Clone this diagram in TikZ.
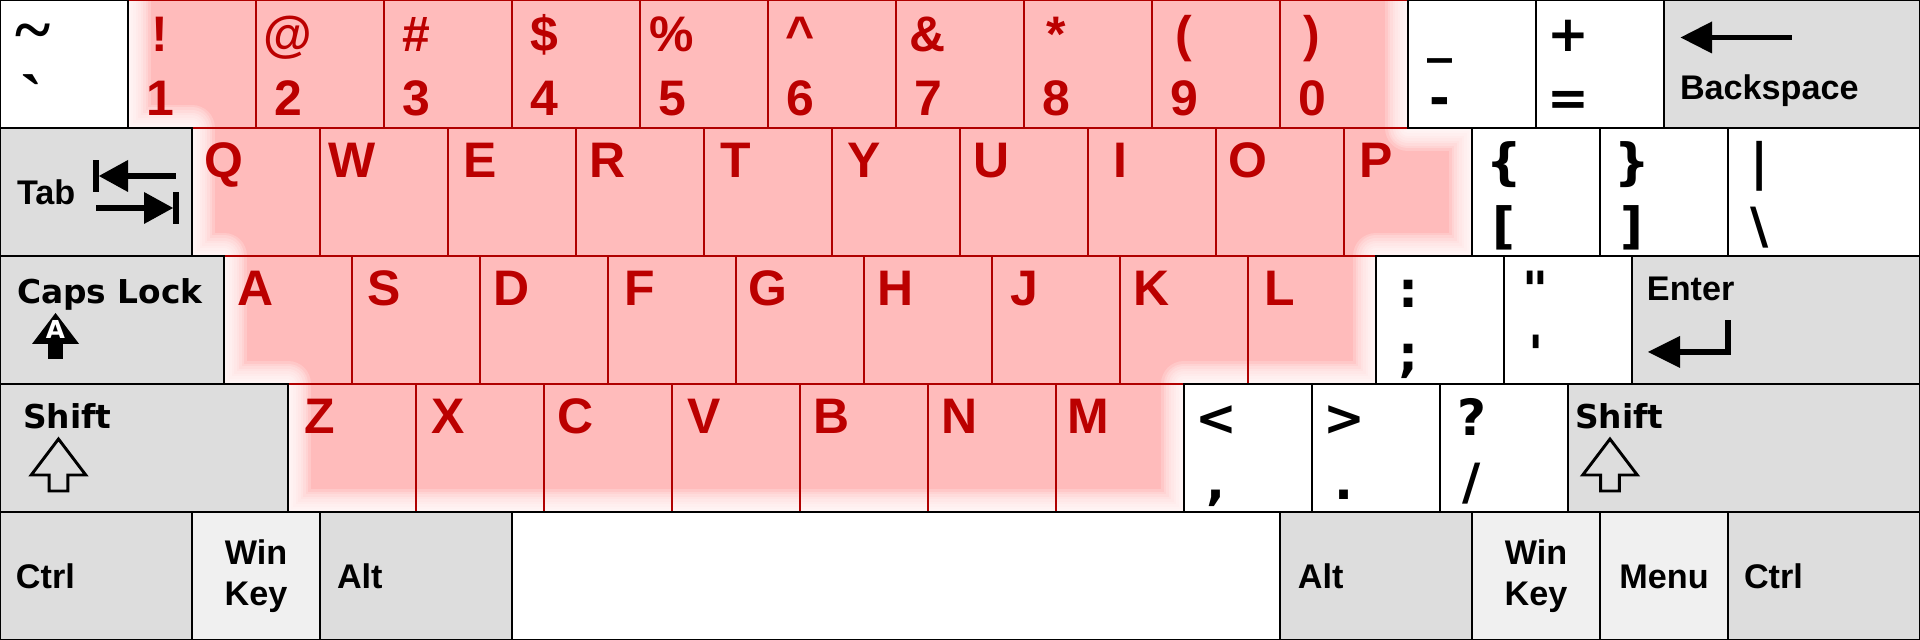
\documentclass[tikz,border=0pt]{standalone}
\usepackage{fontspec}
\setmainfont{Liberation Sans}
\newfontfamily\dejavu{DejaVu Sans}
\newfontfamily\serifkey{Liberation Serif}
\usetikzlibrary{positioning}
\definecolor{keyred}{HTML}{BB0000}
\definecolor{keyline}{HTML}{B00000}
\definecolor{keypink}{HTML}{FFBBBB}
\definecolor{modgrey}{HTML}{DDDDDD}
\definecolor{wingrey}{HTML}{F0F0F0}

% upper and lower legend of one key
\newcommand{\keylegend}[4][symlbl]{%
  \node[#1] (#2top) at ([shift={(0.25,-0.4)}]#2.north west) {#3};
  \node[#1] (#2bot) at ([shift={(0.25,-0.9)}]#2.north west) {#4};}

\begin{document}
\begin{tikzpicture}[
  every node/.style={inner sep=0pt, outer sep=0pt},
  keycap/.style={rectangle, anchor=north west, line width=0.6pt,
                 minimum height=1cm, minimum width=#1},
  keycap/.default=1cm,
  plainkey/.style={keycap=#1, draw=black, fill=white},
  plainkey/.default=1cm,
  modkey/.style={keycap=#1, draw=black, fill=modgrey},
  modkey/.default=1cm,
  winkey/.style={keycap=#1, draw=black, fill=wingrey},
  winkey/.default=1cm,
  letterkey/.style={keycap, draw=keyline},
  redlbl/.style={anchor=base, text=keyred, font=\fontsize{11.1}{13}\selectfont\bfseries},
  symlbl/.style={anchor=base, font=\dejavu\fontsize{11.1}{13}\selectfont\bfseries},
  tildelbl/.style={anchor=base, font=\serifkey\fontsize{15}{17}\selectfont\bfseries},
  modlbl/.style={anchor=base west, font=\fontsize{7.6}{9.1}\selectfont\bfseries},
  capslbl/.style={anchor=base west, font=\dejavu\fontsize{7.3}{9}\selectfont\bfseries},
  capsA/.style={anchor=base, text=white, font=\dejavu\fontsize{5.5}{6}\selectfont\bfseries},
  iconfill/.style={fill=black},
  outline/.style={draw=black, line width=0.65pt},
]
  \useasboundingbox (0,0) rectangle (15,5);
  % pink area behind the letter keys, soft at its border
  \begin{scope}
    \clip (1,5) -- (11,5) -- (11,4) -- (11.5,4) -- (11.5,3) -- (10.75,3)
      -- (10.75,2) -- (9.25,2) -- (9.25,1) -- (2.25,1) -- (2.25,2)
      -- (1.75,2) -- (1.75,3) -- (1.5,3) -- (1.5,4) -- (1,4) -- cycle;
    \fill[keypink] (0,0) rectangle (15,5);
    \foreach \w in {0.04,0.08,...,0.4}
      \draw[white, opacity=0.2, line width=\w*1cm, line join=round]
        (11,5.5) -- (11,4) -- (11.5,4) -- (11.5,3) -- (10.75,3)
        -- (10.75,2) -- (9.25,2) -- (9.25,1) -- (2.25,1) -- (2.25,2)
        -- (1.75,2) -- (1.75,3) -- (1.5,3) -- (1.5,4) -- (1,4) -- (1,5.5);
  \end{scope}

  % number row
  \foreach \s/\d [count=\i] in {{!}/1, {@}/2, {\#}/3, {\$}/4, {\%}/5,
      {\textasciicircum}/6, {\&}/7, {*}/8, {(}/9, {)}/0} {
    \node[letterkey] (num\i) at (\i,5) {};
    \keylegend[redlbl]{num\i}{\s}{\d}
  }
  % letter rows
  \foreach \l [count=\i from 0] in {Q,W,E,R,T,Y,U,I,O,P} {
    \node[letterkey] (k\l) at (1.5+\i,4) {};
    \node[redlbl] (l\l) at ([shift={(0.25,-0.39)}]k\l.north west) {\l};
  }
  \foreach \l [count=\i from 0] in {A,S,D,F,G,H,J,K,L} {
    \node[letterkey] (k\l) at (1.75+\i,3) {};
    \node[redlbl] (l\l) at ([shift={(0.25,-0.39)}]k\l.north west) {\l};
  }
  \foreach \l [count=\i from 0] in {Z,X,C,V,B,N,M} {
    \node[letterkey] (k\l) at (2.25+\i,2) {};
    \node[redlbl] (l\l) at ([shift={(0.25,-0.39)}]k\l.north west) {\l};
  }

  % row 1
  \node[plainkey] (ktilde) at (0,5) {};
  \node[tildelbl] (ktildetop) at ([shift={(0.26,-0.41)}]ktilde.north west) {\textasciitilde};
  \node[tildelbl] (ktildebot) at ([shift={(0.25,-0.95)}]ktilde.north west) {\textasciigrave};
  \node[plainkey] (kminus) at (11,5) {};
  \keylegend{kminus}{\_}{-}
  \node[plainkey] (kequal) at (12,5) {};
  \keylegend{kequal}{+}{=}
  \node[modkey=2cm] (kback) at (13,5) {};
  \node[modlbl] (lback) at ([shift={(0.125,-0.78)}]kback.north west) {Backspace};

  % row 2
  \node[modkey=1.5cm] (ktab) at (0,4) {};
  \node[modlbl] (ltab) at ([shift={(0.133,-0.6)}]ktab.north west) {Tab};
  \node[plainkey] (klbrace) at (11.5,4) {};
  \keylegend{klbrace}{\{}{[}
  \node[plainkey] (krbrace) at (12.5,4) {};
  \keylegend{krbrace}{\}}{]}
  \node[plainkey=1.5cm] (kbslash) at (13.5,4) {};
  \keylegend{kbslash}{|}{\textbackslash}

  % row 3
  \node[modkey=1.75cm] (kcaps) at (0,3) {};
  \node[capslbl] (lcaps) at ([shift={(0.133,-0.375)}]kcaps.north west) {Caps Lock};
  \node[plainkey] (ksemi) at (10.75,3) {};
  \keylegend{ksemi}{:}{;}
  \node[plainkey] (kquote) at (11.75,3) {};
  \keylegend{kquote}{\textquotedbl}{\textquotesingle}
  \node[modkey=2.25cm] (kenter) at (12.75,3) {};
  \node[modlbl] (lenter) at ([shift={(0.117,-0.344)}]kenter.north west) {Enter};

  % row 4
  \node[modkey=2.25cm] (klshift) at (0,2) {};
  \node[capslbl] (llshift) at ([shift={(0.18,-0.35)}]klshift.north west) {Shift};
  \node[plainkey] (kcomma) at (9.25,2) {};
  \keylegend{kcomma}{<}{,}
  \node[plainkey] (kperiod) at (10.25,2) {};
  \keylegend{kperiod}{>}{.}
  \node[plainkey] (kslash) at (11.25,2) {};
  \keylegend{kslash}{?}{/}
  \node[modkey=2.75cm] (krshift) at (12.25,2) {};
  \node[capslbl] (lrshift) at ([shift={(0.055,-0.35)}]krshift.north west) {Shift};

  % row 5
  \node[modkey=1.5cm] (klctrl) at (0,1) {};
  \node[modlbl] (llctrl) at ([shift={(0.125,-0.6)}]klctrl.north west) {Ctrl};
  \node[winkey] (klwin) at (1.5,1) {};
  \node[modlbl, anchor=center, align=center] (llwin) at (klwin.center) {Win\\Key};
  \node[modkey=1.5cm] (klalt) at (2.5,1) {};
  \node[modlbl] (llalt) at ([shift={(0.133,-0.6)}]klalt.north west) {Alt};
  \node[plainkey=6cm] (kspace) at (4,1) {};
  \node[modkey=1.5cm] (kralt) at (10,1) {};
  \node[modlbl] (lralt) at ([shift={(0.14,-0.6)}]kralt.north west) {Alt};
  \node[winkey] (krwin) at (11.5,1) {};
  \node[modlbl, anchor=center, align=center] (lrwin) at (krwin.center) {Win\\Key};
  \node[winkey] (kmenu) at (12.5,1) {};
  \node[modlbl, anchor=base] (lmenu) at ([shift={(0.5,-0.6)}]kmenu.north west) {Menu};
  \node[modkey=1.5cm] (krctrl) at (13.5,1) {};
  \node[modlbl] (lrctrl) at ([shift={(0.125,-0.6)}]krctrl.north west) {Ctrl};

  % tab arrows
  \begin{scope}[shift={(ktab.north west)}]
    \fill[iconfill] (0.727,-0.25) rectangle (0.773,-0.5);
    \fill[iconfill] (0.773,-0.375) -- (1.0,-0.25) -- (1.0,-0.5) -- cycle;
    \fill[iconfill] (0.99,-0.348) rectangle (1.375,-0.402);
    \fill[iconfill] (0.75,-0.598) rectangle (1.135,-0.652);
    \fill[iconfill] (1.352,-0.625) -- (1.125,-0.5) -- (1.125,-0.75) -- cycle;
    \fill[iconfill] (1.352,-0.5) rectangle (1.398,-0.75);
  \end{scope}
  % backspace arrow
  \begin{scope}[shift={(kback.north west)}]
    \fill[iconfill] (0.13,-0.293) -- (0.375,-0.168) -- (0.375,-0.418) -- cycle;
    \fill[iconfill] (0.365,-0.27) rectangle (1.0,-0.316);
  \end{scope}
  % enter arrow
  \begin{scope}[shift={(kenter.north west)}]
    \fill[iconfill] (0.727,-0.5) rectangle (0.773,-0.773);
    \fill[iconfill] (0.365,-0.727) rectangle (0.773,-0.773);
    \fill[iconfill] (0.125,-0.75) -- (0.375,-0.625) -- (0.375,-0.875) -- cycle;
  \end{scope}
  % caps lock arrow
  \begin{scope}[shift={(kcaps.north west)}]
    \fill[iconfill] (0.434,-0.445) -- (0.618,-0.6875) -- (0.25,-0.6875) -- cycle;
    \fill[iconfill] (0.375,-0.68) rectangle (0.493,-0.805);
    \node[capsA] (lcapsA) at (0.434,-0.648) {A};
  \end{scope}
  % shift arrows
  \begin{scope}[shift={(klshift.north west)}]
    \draw[outline] (0.457,-0.43) -- (0.67,-0.711) -- (0.53,-0.711) -- (0.53,-0.836)
      -- (0.384,-0.836) -- (0.384,-0.711) -- (0.244,-0.711) -- cycle;
  \end{scope}
  \begin{scope}[shift={(krshift.north west)}]
    \draw[outline] (0.328,-0.43) -- (0.541,-0.711) -- (0.401,-0.711) -- (0.401,-0.836)
      -- (0.255,-0.836) -- (0.255,-0.711) -- (0.115,-0.711) -- cycle;
  \end{scope}
\end{tikzpicture}
\end{document}
